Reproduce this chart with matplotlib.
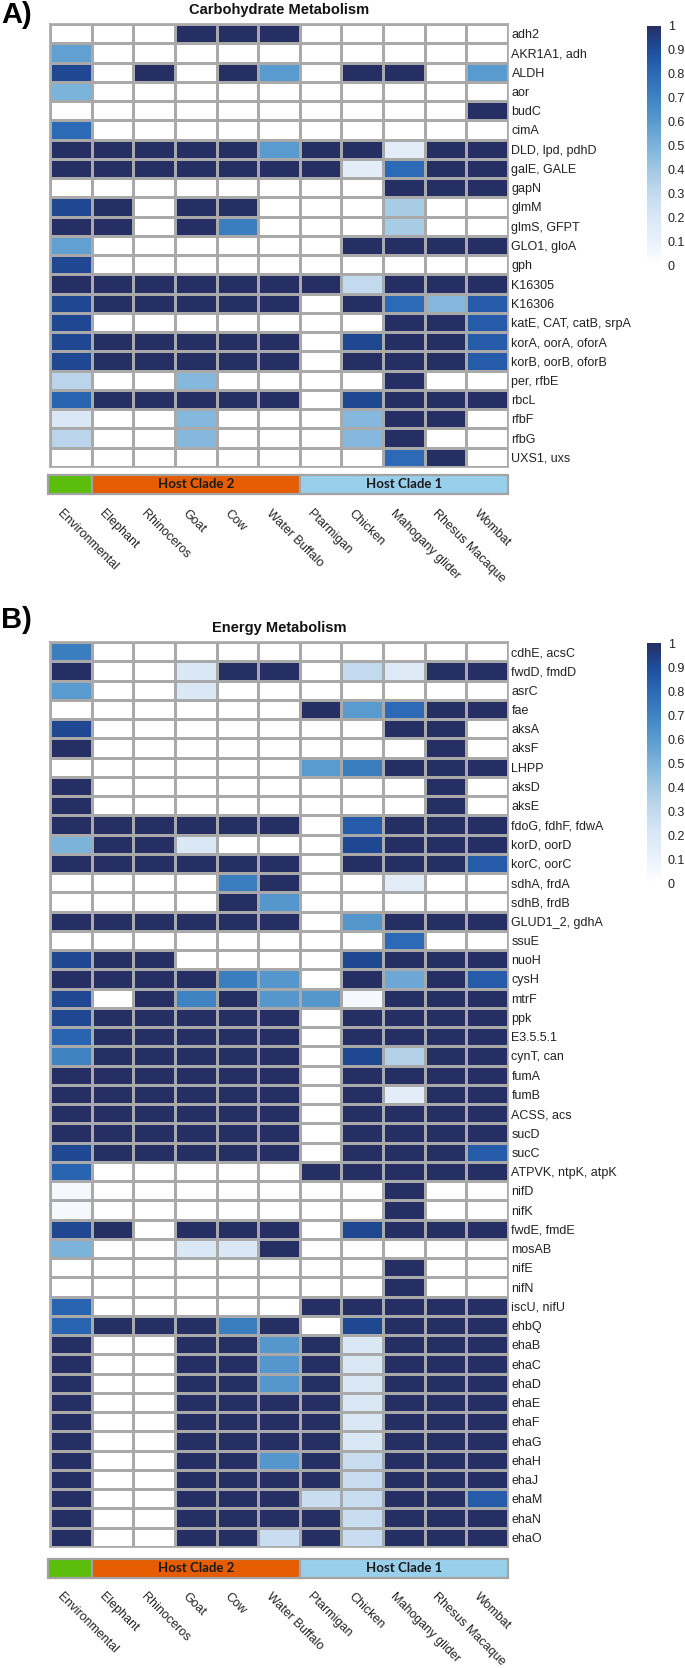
import matplotlib
matplotlib.use('Agg')
import matplotlib.pyplot as plt
import numpy as np
from matplotlib.colors import LinearSegmentedColormap
from matplotlib.transforms import blended_transform_factory
from matplotlib.patches import Rectangle
import matplotlib.cm as cm
from matplotlib.colors import Normalize

plt.rcParams['font.family'] = ['Liberation Sans', 'DejaVu Sans']

hosts = ["Environmental", "Elephant", "Rhinoceros", "Goat", "Cow", "Water Buffalo",
         "Ptarmigan", "Chicken", "Mahogany glider", "Rhesus Macaque", "Wombat"]
host_clade = ["Environmental"] + ["Host Clade 2"] * 5 + ["Host Clade 1"] * 5
clade_colors = {"Environmental": "#5bbd0c", "Host Clade 2": "#e65c00", "Host Clade 1": "#98cfeb"}
clade_text = {"Environmental": "", "Host Clade 2": "Host Clade 2", "Host Clade 1": "Host Clade 1"}

carb_genes = ["adh2", "AKR1A1, adh", "ALDH", "aor", "budC", "cimA", "DLD, lpd, pdhD",
              "galE, GALE", "gapN", "glmM", "glmS, GFPT", "GLO1, gloA", "gph", "K16305",
              "K16306", "katE, CAT, catB, srpA", "korA, oorA, oforA", "korB, oorB, oforB",
              "per, rfbE", "rbcL", "rfbF", "rfbG", "UXS1, uxs"]
carb_values = [
    [0, 0, 0, 1, 1, 1, 0, 0, 0, 0, 0],
    [0.58, 0, 0, 0, 0, 0, 0, 0, 0, 0, 0],
    [0.92, 0, 1, 0, 1, 0.6, 0, 1, 1, 0, 0.6],
    [0.5, 0, 0, 0, 0, 0, 0, 0, 0, 0, 0],
    [0, 0, 0, 0, 0, 0, 0, 0, 0, 0, 1],
    [0.8, 0, 0, 0, 0, 0, 0, 0, 0, 0, 0],
    [1, 1, 1, 1, 1, 0.6, 1, 1, 0.15, 1, 1],
    [1, 1, 1, 1, 1, 1, 1, 0.15, 0.8, 1, 1],
    [0, 0, 0, 0, 0, 0, 0, 0, 1, 1, 1],
    [0.92, 1, 0, 1, 1, 0, 0, 0, 0.38, 0, 0],
    [1, 1, 0, 1, 0.72, 0, 0, 0, 0.38, 0, 0],
    [0.58, 0, 0, 0, 0, 0, 0, 1, 1, 1, 1],
    [0.92, 0, 0, 0, 0, 0, 0, 0, 0, 0, 0],
    [1, 1, 1, 1, 1, 1, 1, 0.3, 1, 1, 1],
    [0.92, 1, 1, 1, 1, 1, 0, 1, 0.8, 0.48, 0.85],
    [0.92, 0, 0, 0, 0, 0, 0, 0, 1, 1, 0.85],
    [0.92, 1, 1, 1, 1, 1, 0, 0.92, 1, 1, 0.85],
    [0.92, 1, 1, 1, 1, 1, 0, 1, 1, 1, 0.85],
    [0.33, 0, 0, 0.48, 0, 0, 0, 0, 1, 0, 0],
    [0.82, 1, 1, 1, 1, 1, 0, 0.92, 1, 1, 1],
    [0.2, 0, 0, 0.48, 0, 0, 0, 0.48, 1, 1, 0],
    [0.33, 0, 0, 0.48, 0, 0, 0, 0.48, 1, 0, 0],
    [0, 0, 0, 0, 0, 0, 0, 0, 0.8, 1, 0],
]

energy_genes = ["cdhE, acsC", "fwdD, fmdD", "asrC", "fae", "aksA", "aksF", "LHPP", "aksD",
                "aksE", "fdoG, fdhF, fdwA", "korD, oorD", "korC, oorC", "sdhA, frdA",
                "sdhB, frdB", "GLUD1_2, gdhA", "ssuE", "nuoH", "cysH", "mtrF", "ppk",
                "E3.5.5.1", "cynT, can", "fumA", "fumB", "ACSS, acs", "sucD", "sucC",
                "ATPVK, ntpK, atpK", "nifD", "nifK", "fwdE, fmdE", "mosAB", "nifE", "nifN",
                "iscU, nifU", "ehbQ", "ehaB", "ehaC", "ehaD", "ehaE", "ehaF", "ehaG",
                "ehaH", "ehaJ", "ehaM", "ehaN", "ehaO"]
energy_values = [
    [0.72, 0, 0, 0, 0, 0, 0, 0, 0, 0, 0],
    [1, 0, 0, 0.2, 1, 1, 0, 0.3, 0.18, 1, 1],
    [0.6, 0, 0, 0.2, 0, 0, 0, 0, 0, 0, 0],
    [0, 0, 0, 0, 0, 0, 1, 0.6, 0.8, 1, 1],
    [0.92, 0, 0, 0, 0, 0, 0, 0, 1, 1, 0],
    [1, 0, 0, 0, 0, 0, 0, 0, 0, 1, 0],
    [0, 0, 0, 0, 0, 0, 0.6, 0.72, 1, 1, 1],
    [1, 0, 0, 0, 0, 0, 0, 0, 0, 1, 0],
    [1, 0, 0, 0, 0, 0, 0, 0, 0, 1, 0],
    [1, 1, 1, 1, 1, 1, 0, 0.85, 1, 1, 1],
    [0.5, 1, 1, 0.2, 0, 0, 0, 0.92, 1, 1, 1],
    [1, 1, 1, 1, 1, 1, 0, 1, 1, 1, 0.85],
    [0, 0, 0, 0, 0.72, 1, 0, 0, 0.15, 0, 0],
    [0, 0, 0, 0, 1, 0.62, 0, 0, 0, 0, 0],
    [1, 1, 1, 1, 1, 1, 0, 0.62, 1, 1, 1],
    [0, 0, 0, 0, 0, 0, 0, 0, 0.8, 0, 0],
    [0.92, 1, 1, 0, 0, 0, 0, 0.92, 1, 1, 1],
    [1, 1, 1, 1, 0.72, 0.62, 0, 1, 0.55, 1, 0.85],
    [0.92, 0, 1, 0.7, 1, 0.62, 0.62, 0.05, 1, 1, 1],
    [0.92, 1, 1, 1, 1, 1, 0, 1, 1, 1, 1],
    [0.82, 1, 1, 1, 1, 1, 0, 1, 1, 1, 1],
    [0.7, 1, 1, 1, 1, 1, 0, 0.92, 0.35, 1, 1],
    [1, 1, 1, 1, 1, 1, 0, 1, 1, 1, 1],
    [1, 1, 1, 1, 1, 1, 0, 1, 0.15, 1, 1],
    [1, 1, 1, 1, 1, 1, 0, 1, 1, 1, 1],
    [1, 1, 1, 1, 1, 1, 0, 1, 1, 1, 1],
    [0.92, 1, 1, 1, 1, 1, 0, 1, 1, 1, 0.85],
    [0.82, 0, 0, 0, 0, 0, 1, 1, 1, 1, 1],
    [0.05, 0, 0, 0, 0, 0, 0, 0, 1, 0, 0],
    [0.05, 0, 0, 0, 0, 0, 0, 0, 1, 0, 0],
    [0.92, 1, 0, 1, 1, 1, 0, 0.92, 1, 1, 1],
    [0.5, 0, 0, 0.2, 0.2, 1, 0, 0, 0, 0, 0],
    [0, 0, 0, 0, 0, 0, 0, 0, 1, 0, 0],
    [0, 0, 0, 0, 0, 0, 0, 0, 1, 0, 0],
    [0.82, 0, 0, 0, 0, 0, 1, 1, 1, 1, 1],
    [0.82, 1, 1, 1, 0.72, 1, 0, 0.92, 1, 1, 1],
    [1, 0, 0, 1, 1, 0.62, 1, 0.2, 1, 1, 1],
    [1, 0, 0, 1, 1, 0.62, 1, 0.2, 1, 1, 1],
    [1, 0, 0, 1, 1, 0.62, 1, 0.2, 1, 1, 1],
    [1, 0, 0, 1, 1, 1, 1, 0.2, 1, 1, 1],
    [1, 0, 0, 1, 1, 1, 1, 0.2, 1, 1, 1],
    [1, 0, 0, 1, 1, 1, 1, 0.2, 1, 1, 1],
    [1, 0, 0, 1, 1, 0.62, 1, 0.28, 1, 1, 1],
    [1, 0, 0, 1, 1, 1, 1, 0.28, 1, 1, 1],
    [1, 0, 0, 1, 1, 1, 0.28, 0.28, 1, 1, 0.85],
    [1, 0, 0, 1, 1, 1, 1, 0.28, 1, 1, 1],
    [1, 0, 0, 1, 1, 0.28, 1, 0.28, 1, 1, 1],
]

W, H = 685, 1668
fig = plt.figure(figsize=(W / 100, H / 100), dpi=100)

cmap = LinearSegmentedColormap.from_list('navyblues', [
    (0.0, '#ffffff'), (0.1, '#eaf2fb'), (0.2, '#dae8f5'), (0.3, '#c3daee'),
    (0.4, '#a3c8e3'), (0.5, '#7db3da'), (0.6, '#5a9bcf'), (0.7, '#3f84c3'),
    (0.8, '#2c6ab5'), (0.9, '#1f4d9e'), (1.0, '#252f63')])

GRID = '#a9a9a9'


def px_axes(x0, y0, x1, y1):
    return fig.add_axes([x0 / W, 1 - y1 / H, (x1 - x0) / W, (y1 - y0) / H])


def panel(genes, values, hm_top, hm_bot, bar_top, bar_bot, label_y, title, title_y,
          letter, letter_top, cb_top, cb_bot):
    ax = px_axes(50, hm_top, 508, hm_bot)
    data = np.array(values, dtype=float)
    ax.pcolormesh(data, cmap=cmap, vmin=0, vmax=1, edgecolors=GRID, linewidth=0.9)
    ax.set_xlim(0, len(hosts))
    ax.set_ylim(len(genes), 0)
    ax.set_yticks(np.arange(len(genes)) + 0.5)
    ax.set_yticklabels(genes)
    ax.yaxis.tick_right()
    ax.tick_params(axis='y', length=0, pad=2.5, labelsize=9, labelcolor='#222222')
    ax.set_xticks([])
    for s in ax.spines.values():
        s.set_color(GRID)
        s.set_linewidth(1.2)

    # clade bar
    bax = px_axes(47.5, bar_top, 508, bar_bot)
    bax.set_xlim(-0.06, len(hosts))
    bax.set_ylim(0, 1)
    bax.axis('off')
    groups = []
    for i, c in enumerate(host_clade):
        if groups and groups[-1][0] == c:
            groups[-1][2] += 1
        else:
            groups.append([c, i, 1])
    for c, start, n in groups:
        x0 = start if start > 0 else -0.06
        w = start + n - x0
        bax.add_patch(Rectangle((x0, 0), w, 1, facecolor=clade_colors[c],
                                edgecolor='#a3a3a3', linewidth=1.6, clip_on=False))
        if clade_text[c]:
            bax.text(start + n / 2, 0.5, clade_text[c], ha='center', va='center',
                     fontsize=9.5, fontweight='bold', family=['Lato', 'DejaVu Sans'],
                     color='#1a1a1a')

    # column labels
    tr = blended_transform_factory(ax.transData, fig.transFigure)
    for i, h in enumerate(hosts):
        ax.text(i + 0.5 - 0.17, 1 - label_y / H, h, rotation=-45, rotation_mode='anchor',
                ha='left', va='top', fontsize=9, color='#222222', transform=tr)

    fig.text(279 / W, 1 - title_y / H, title, ha='center', va='center',
             fontsize=10.5, fontweight='bold', color='#111111')
    fig.text(1 / W, 1 - letter_top / H, letter, ha='left', va='top',
             fontsize=21, fontweight='bold', color='#000000')

    cax = px_axes(647, cb_top, 661, cb_bot)
    sm = cm.ScalarMappable(norm=Normalize(0, 1), cmap=cmap)
    cb = fig.colorbar(sm, cax=cax, ticks=np.round(np.arange(0, 1.01, 0.1), 1))
    cb.outline.set_visible(False)
    cb.set_ticklabels(['%g' % t for t in np.round(np.arange(0, 1.01, 0.1), 1)])
    cax.tick_params(length=0, pad=5, labelsize=9, labelcolor='#222222')


panel(carb_genes, carb_values, 24, 467, 475, 494, 508, "Carbohydrate Metabolism", 10,
      "A)", 1, 26, 266)
panel(energy_genes, energy_values, 642, 1547, 1559, 1578, 1591, "Energy Metabolism", 628,
      "B)", 606, 643, 883)

fig.savefig('out.png', dpi=100)
